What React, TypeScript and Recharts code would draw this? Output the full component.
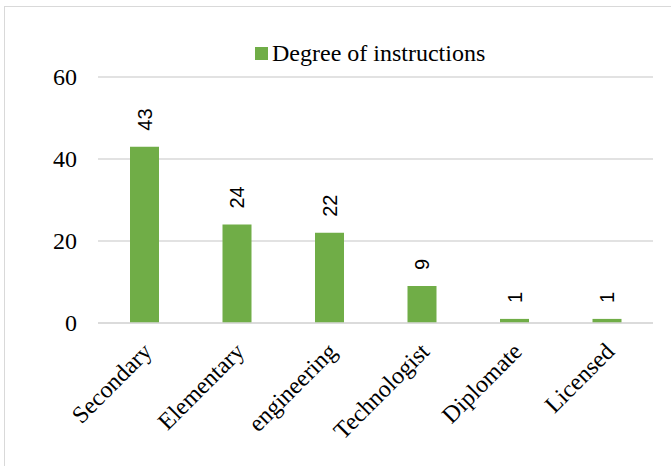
import { BarChart, Bar, XAxis, YAxis, CartesianGrid, LabelList } from 'recharts';

const categories = ['Secondary', 'Elementary', 'engineering', 'Technologist', 'Diplomate', 'Licensed'];
const counts = [43, 24, 22, 9, 1, 1];
const yTicks = [0, 20, 40, 60];
const seriesName = 'Degree of instructions';

const data = categories.map((name, i) => ({ name, value: counts[i] }));

const GREEN = '#70AD47';
const GRID = '#d9d9d9';
const SERIF = '"Liberation Serif", "Times New Roman", serif';
const SANS = '"Liberation Sans", Arial, sans-serif';

// rotated category labels, anchored at their end like Excel does
const XTick = (props: any) => {
  const { x, y, payload } = props;
  return (
    <g transform={`translate(${x + 9},${y + 22}) rotate(-45)`}>
      <text x={0} y={0} textAnchor="end" fill="#000" fontSize={24} fontFamily={SERIF}>
        {payload.value}
      </text>
    </g>
  );
};

const YTick = (props: any) => {
  const { x, y, payload } = props;
  return (
    <text x={x} y={y} dy={8} textAnchor="end" fill="#000" fontSize={24} fontFamily={SERIF}>
      {payload.value}
    </text>
  );
};

// value labels standing vertically above the bars
const ValueLabel = (props: any) => {
  const { x, y, width, value } = props;
  const cx = x + width / 2;
  const cy = y - 16;
  return (
    <text
      transform={`translate(${cx + 7},${cy}) rotate(-90)`}
      x={0}
      y={0}
      textAnchor="start"
      fill="#000"
      fontSize={20}
      fontFamily={SANS}
    >
      {value}
    </text>
  );
};

export default function App() {
  return (
    <div style={{ position: 'absolute', left: 0, top: 0, width: 671, height: 466, overflow: 'hidden', background: '#fff' }}>
      {/* chart frame */}
      <div style={{ position: 'absolute', left: 4, top: 6, width: 720, height: 520, border: `1.5px solid ${GRID}` }} />

      {/* legend */}
      <div style={{ position: 'absolute', left: 255, top: 40, display: 'flex', alignItems: 'center', fontFamily: SERIF, fontSize: 24, color: '#000', whiteSpace: 'nowrap' }}>
        <span style={{ display: 'inline-block', width: 13, height: 13, background: GREEN, marginRight: 4 }} />
        <span>{seriesName}</span>
      </div>

      <BarChart
        width={671}
        height={466}
        data={data}
        margin={{ top: 77, right: 18, bottom: 0, left: 38 }}
        style={{ position: 'absolute', left: 0, top: 0 }}
      >
        <CartesianGrid horizontal vertical={false} stroke={GRID} strokeWidth={1.5} />
        <XAxis
          dataKey="name"
          height={143}
          interval={0}
          axisLine={{ stroke: GRID, strokeWidth: 1.5 }}
          tickLine={false}
          tick={<XTick />}
        />
        <YAxis
          width={60}
          domain={[0, 60]}
          ticks={yTicks}
          axisLine={false}
          tickLine={false}
          tickSize={0}
          tickMargin={21}
          tick={<YTick />}
        />
        <Bar dataKey="value" name={seriesName} fill={GREEN} barSize={29} isAnimationActive={false}>
          <LabelList dataKey="value" content={<ValueLabel />} />
        </Bar>
      </BarChart>
    </div>
  );
}
